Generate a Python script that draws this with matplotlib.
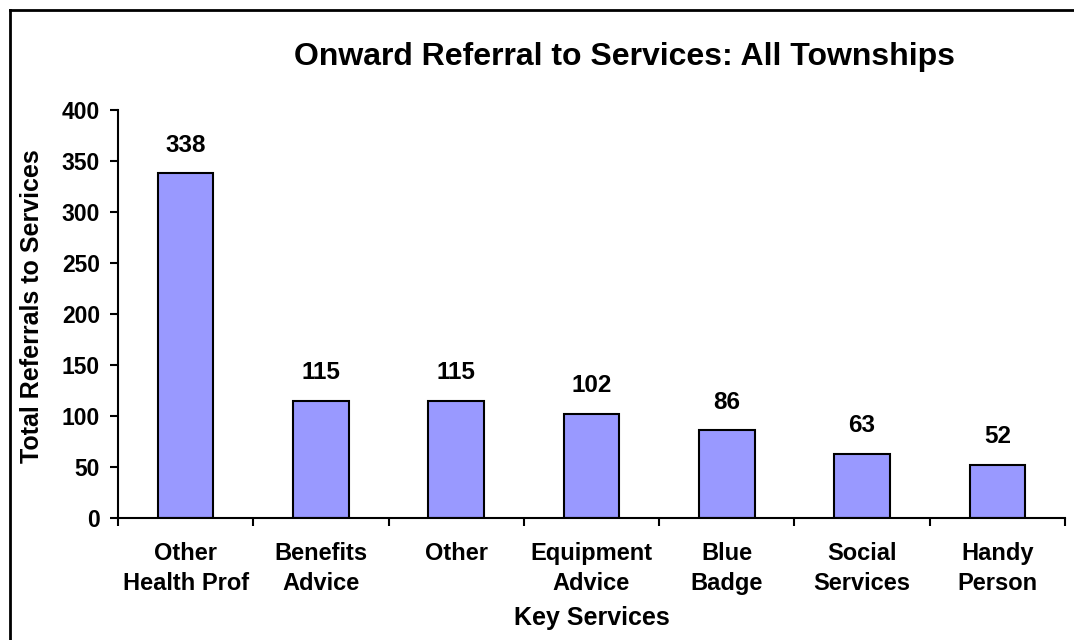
import matplotlib.pyplot as plt
import numpy as np
from matplotlib.lines import Line2D

plt.rcParams['font.family'] = ['Liberation Sans', 'DejaVu Sans']
plt.rcParams['font.weight'] = 'bold'

# Dados
categorias = ["Other\nHealth Prof", "Benefits\nAdvice", "Other", "Equipment\nAdvice",
              "Blue\nBadge", "Social\nServices", "Handy\nPerson"]
valores = [338, 115, 115, 102, 86, 63, 52]
y_ticks = [0, 50, 100, 150, 200, 250, 300, 350, 400]

fig = plt.figure(figsize=(10.74, 6.4), dpi=100)
ax = fig.add_axes([118 / 1074, 122 / 640, (1065 - 118) / 1074, 408 / 640])

x = np.arange(len(valores))
ax.bar(x, valores, width=0.41, color="#9999FF", edgecolor="black", linewidth=1.5)

for xi, v in zip(x, valores):
    ax.annotate(str(v), (xi, v), xytext=(0, 12), textcoords="offset points",
                ha="center", va="bottom", fontsize=17.5, fontweight="bold")

ax.set_xlim(-0.5, len(valores) - 0.5)
ax.set_ylim(0, 400)
ax.set_yticks(y_ticks)
ax.set_xticks(x)
ax.set_xticklabels(categorias, fontsize=17, fontweight="bold", linespacing=1.4)
ax.set_xticks(np.arange(len(valores) + 1) - 0.5, minor=True)
ax.tick_params(axis="x", which="major", length=0, pad=17)
ax.tick_params(axis="x", which="minor", length=6, width=1.5, direction="out")
ax.tick_params(axis="y", length=6, width=1.5, direction="out", labelsize=16.5, pad=7)
for lbl in ax.get_yticklabels():
    lbl.set_fontweight("bold")

for lado in ["top", "right"]:
    ax.spines[lado].set_visible(False)
for lado in ["left", "bottom"]:
    ax.spines[lado].set_linewidth(1.5)

ax.set_xlabel("Key Services", fontsize=18, fontweight="bold", labelpad=8)
ax.set_ylabel("Total Referrals to Services", fontsize=18, fontweight="bold")
ax.yaxis.set_label_coords((44 - 118) / 947, (518 - 306) / 408)

fig.text(624 / 1074, 1 - 57 / 640, "Onward Referral to Services: All Townships",
         ha="center", va="center", fontsize=23, fontweight="bold")

# Moldura (apenas esquerda e topo visíveis)
fig.add_artist(Line2D([10 / 1074, 10 / 1074], [0, 1 - 10 / 640], color="black", linewidth=2))
fig.add_artist(Line2D([10 / 1074, 1], [1 - 10 / 640, 1 - 10 / 640], color="black", linewidth=2))

fig.savefig("out.png", dpi=100)
